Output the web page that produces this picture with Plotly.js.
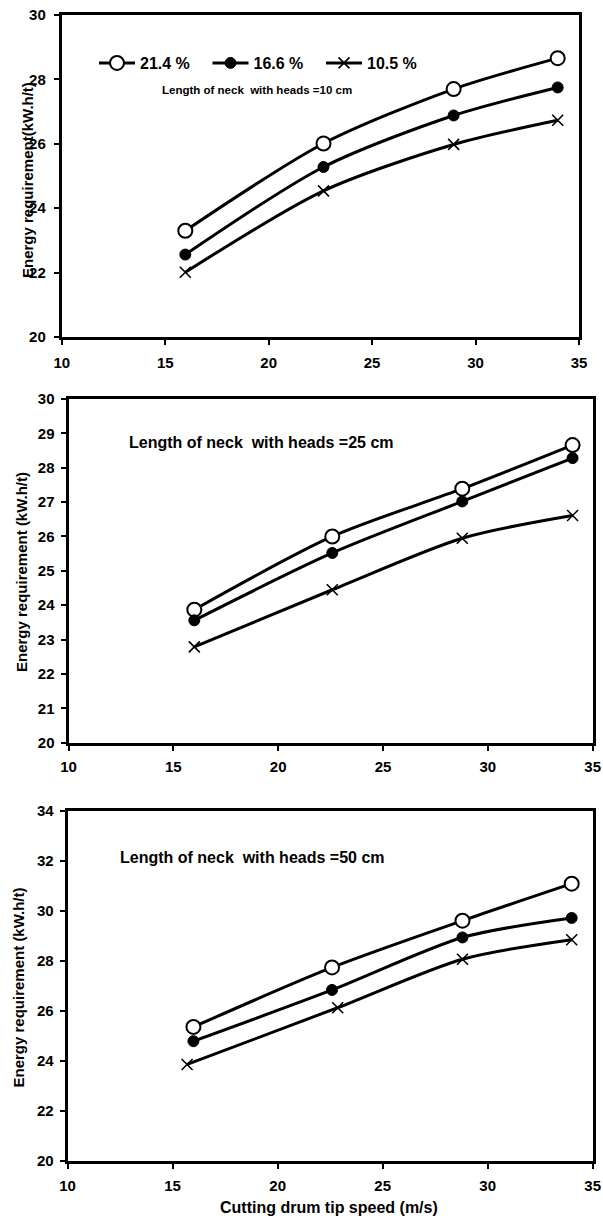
<!DOCTYPE html>
<html>
<head>
<meta charset="utf-8">
<script src="https://cdn.plot.ly/plotly-3.0.1.min.js"></script>
<style>
  html, body { margin: 0; padding: 0; background: #fff; }
  #chart { width: 603px; height: 1221px; }
</style>
</head>
<body>
<div id="chart"></div>
<script>
// ---------- data ----------
const seriesNames = ['21.4 %', '16.6 %', '10.5 %'];
const xTickVals = [10, 15, 20, 25, 30, 35];

// Panel 1 : length of neck with heads = 10 cm
const p1Label = 'Length of neck  with heads =10 cm';
const p1X = [15.97, 22.65, 28.94, 33.97];
const p1S214 = [23.30, 26.01, 27.70, 28.66];
const p1S166 = [22.56, 25.28, 26.88, 27.75];
const p1S105 = [22.01, 24.54, 25.98, 26.73];
const p1YTicks = [20, 22, 24, 26, 28, 30];

// Panel 2 : length of neck with heads = 25 cm
const p2Label = 'Length of neck  with heads =25 cm';
const p2X = [16.00, 22.58, 28.78, 34.04];
const p2S214 = [23.87, 26.00, 27.39, 28.66];
const p2S166 = [23.56, 25.52, 27.02, 28.28];
const p2S105 = [22.79, 24.45, 25.95, 26.61];
const p2YTicks = [20, 21, 22, 23, 24, 25, 26, 27, 28, 29, 30];

// Panel 3 : length of neck with heads = 50 cm
const p3Label = 'Length of neck  with heads =50 cm';
const p3X = [15.99, 22.59, 28.80, 34.00];
const p3X105 = [15.69, 22.86, 28.80, 34.00];
const p3S214 = [25.35, 27.73, 29.60, 31.08];
const p3S166 = [24.78, 26.83, 28.93, 29.71];
const p3S105 = [23.85, 26.12, 28.06, 28.84];
const p3YTicks = [20, 22, 24, 26, 28, 30, 32, 34];

const yTitle1 = 'Energy requirement(kW.h/t)';
const yTitle2 = 'Energy requirement (kW.h/t)';
const yTitle3 = 'Energy requirement (kW.h/t)';
const xTitle = 'Cutting drum tip speed (m/s)';

// ---------- styling ----------
const FONT = 'Arial, "Liberation Sans", Helvetica, sans-serif';
const W = 603, H = 1221;
const px = v => v / W;
const py = v => 1 - v / H;

const markerStyles = [
  {symbol: 'circle', size: 14, color: '#ffffff', line: {color: '#000', width: 2}},
  {symbol: 'circle', size: 11, color: '#000000', line: {color: '#000', width: 1}},
  {symbol: 'x-thin-open', size: 11, color: '#000000', line: {color: '#000', width: 1.6}}
];

function mk(x, y, i, ax, showLegend) {
  return {
    type: 'scatter', mode: 'lines+markers',
    x: x, y: y, name: seriesNames[i],
    xaxis: 'x' + ax, yaxis: 'y' + ax,
    line: {color: '#000', width: 3, shape: 'spline', smoothing: 0.8},
    marker: markerStyles[i],
    showlegend: showLegend,
    cliponaxis: false
  };
}

const traces = [
  mk(p1X, p1S214, 0, '', true),
  mk(p1X, p1S166, 1, '', true),
  mk(p1X, p1S105, 2, '', true),
  mk(p2X, p2S214, 0, '2', false),
  mk(p2X, p2S166, 1, '2', false),
  mk(p2X, p2S105, 2, '2', false),
  mk(p3X, p3S214, 0, '3', false),
  mk(p3X, p3S166, 1, '3', false),
  mk(p3X105, p3S105, 2, '3', false)
];

function xa(domain, anchor, standoff) {
  return {
    domain: domain, anchor: anchor, range: [10, 35], tickvals: xTickVals,
    showline: true, mirror: true, linewidth: 3, linecolor: '#000',
    ticks: 'outside', ticklen: 5, tickwidth: 2, tickcolor: '#000',
    showgrid: false, zeroline: false, ticklabelstandoff: standoff,
    tickfont: {family: FONT, size: 15, color: '#000', weight: 'bold'}
  };
}
function ya(domain, anchor, range, ticks, standoff) {
  return {
    domain: domain, anchor: anchor, range: range, tickvals: ticks,
    showline: true, mirror: true, linewidth: 3, linecolor: '#000',
    ticks: 'outside', ticklen: 5, tickwidth: 2, tickcolor: '#000',
    showgrid: false, zeroline: false, ticklabelstandoff: standoff,
    tickfont: {family: FONT, size: 15, color: '#000', weight: 'bold'}
  };
}

const ann = (text, x, y, size, angle) => ({
  text: text, xref: 'paper', yref: 'paper', x: px(x), y: py(y),
  xanchor: 'center', yanchor: 'middle', showarrow: false,
  textangle: angle || 0,
  font: {family: FONT, size: size, color: '#000', weight: 'bold'}
});

const layout = {
  width: W, height: H,
  margin: {l: 0, r: 0, t: 0, b: 0},
  paper_bgcolor: '#fff', plot_bgcolor: '#fff',
  showlegend: true,
  legend: {
    orientation: 'h', x: px(94), y: py(63), xanchor: 'left', yanchor: 'middle',
    bgcolor: 'rgba(0,0,0,0)', borderwidth: 0,
    font: {family: FONT, size: 16, color: '#000', weight: 'bold'},
    itemwidth: 36,
    entrywidth: 62.5, entrywidthmode: 'pixels', itemclick: false
  },
  xaxis: xa([px(61.8), px(579)], 'y', 5),
  yaxis: ya([py(337), py(15)], 'x', [20, 30], p1YTicks, 5),
  xaxis2: xa([px(68.5), px(592.7)], 'y2', 3),
  yaxis2: ya([py(742.7), py(399)], 'x2', [20, 30], p2YTicks, 3),
  xaxis3: xa([px(67.6), px(592.7)], 'y3', 4),
  yaxis3: ya([py(1160.7), py(810.7)], 'x3', [20, 34], p3YTicks, 3),
  annotations: [
    ann(p1Label, 257, 90, 11.5),
    ann(p2Label, 261.5, 442, 16),
    ann(p3Label, 252.5, 857, 16),
    ann(yTitle1, 27, 180, 15, -90),
    ann(yTitle2, 21, 572, 15, -90),
    ann(yTitle3, 17.5, 988, 15, -90),
    ann(xTitle, 329, 1207, 16)
  ]
};

Plotly.newPlot('chart', traces, layout, {staticPlot: true, displayModeBar: false});
</script>
</body>
</html>
